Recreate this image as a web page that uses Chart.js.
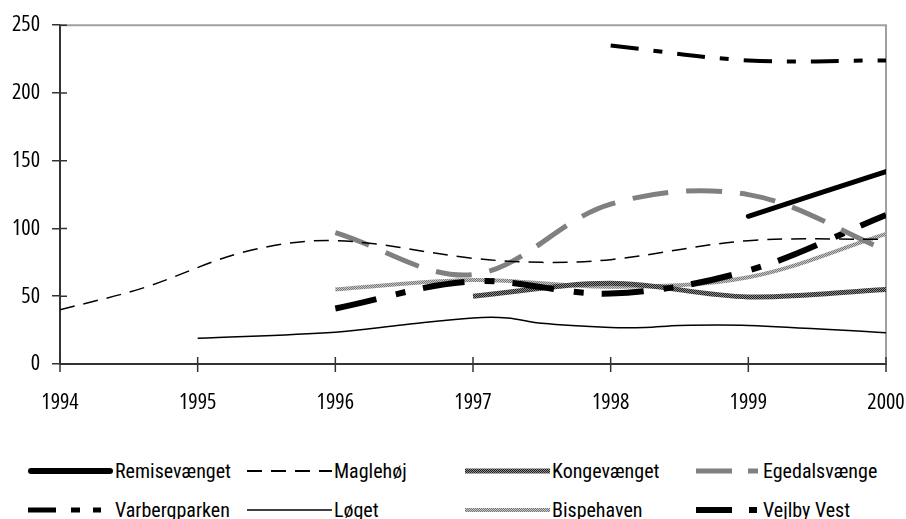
<!DOCTYPE html>
<html>
<head>
<meta charset="utf-8">
<script src="https://cdn.jsdelivr.net/npm/chart.js@4.4.1/dist/chart.umd.min.js"></script>
<style>
  body { margin: 0; background: #fff; }
  #wrap { position: relative; width: 906px; height: 519px; }
  #box { position: absolute; left: 0; top: 0; width: 906px; height: 440px; }
  #legend {
    position: absolute; left: 28px; top: 460px;
    display: grid; grid-template-columns: 219px 218px 211px auto; row-gap: 17px;
    font-family: 'Roboto Condensed', 'Liberation Sans', sans-serif;
    font-size: 20px; color: #000;
  }
  .item { display: flex; align-items: center; height: 22px; white-space: nowrap; }
  .item svg { margin-right: 2px; flex: none; }
</style>
</head>
<body>
<div id="wrap">
  <div id="box"><canvas id="chart"></canvas></div>
  <div id="legend"></div>
</div>
<script>
// values
const remiseYears = [1999, 2000];
const remiseValues = [109, 142];

const magleYears = [1994, 1994.6, 1995.35, 1996, 1997, 1997.5, 1998, 1999, 2000];
const magleValues = [40, 56, 83, 91, 78, 75, 77, 91, 92];

const kongeYears = [1997, 1998, 1999, 2000];
const kongeValues = [50, 59.5, 49.5, 55];

const egedalYears = [1996, 1997, 1998, 1999, 2000];
const egedalValues = [97, 66, 118, 125, 84];

const varbergYears = [1998, 1999, 2000];
const varbergValues = [235, 224, 224];

const logetYears = [1995, 1996, 1996.5, 1997, 1997.25, 1997.5, 1998, 1998.25, 1998.5, 1999, 2000];
const logetValues = [19, 23.5, 29, 34, 34, 30, 27, 27, 28.5, 28.5, 23];

const bispeYears = [1996, 1997, 1998, 1999, 2000];
const bispeValues = [55, 62, 57, 64, 96];

const vejlbyYears = [1996, 1997, 1998, 1999, 2000];
const vejlbyValues = [41, 61, 52, 69, 110];

const yearMin = 1994, yearMax = 2000;
const valueMin = 0, valueMax = 250, valueStep = 50;

// condensed face of Open Sans, close to the narrow axis digits of the original
const TICK_FONT = { family: "'Open Sans', 'Liberation Sans', sans-serif", size: 22, weight: 'condensed' };

function points(xs, ys) {
    return xs.map((x, i) => ({ x: x, y: ys[i] }));
}

// fine checkered fill, like the dithered lines in the original
function dither(dark, light) {
    const c = document.createElement('canvas');
    c.width = 2; c.height = 2;
    const g = c.getContext('2d');
    g.fillStyle = light; g.fillRect(0, 0, 2, 2);
    g.fillStyle = dark; g.fillRect(0, 0, 1, 1); g.fillRect(1, 1, 1, 1);
    return g.createPattern(c, 'repeat');
}

const series = [
    { label: 'Remisevænget', data: points(remiseYears, remiseValues), color: '#000', width: 5, dash: [], cap: 'round', key: 6 },
    { label: 'Maglehøj', data: points(magleYears, magleValues), color: '#000', width: 1.5, dash: [15, 9], key: 2 },
    { label: 'Kongevænget', data: points(kongeYears, kongeValues), tex: ['#222', '#8a8a8a'], width: 5, dash: [], order: 2, key: 5 },
    { label: 'Egedalsvænge', data: points(egedalYears, egedalValues), color: '#808080', width: 5, dash: [36, 18], key: 5, keyDash: [0, 20, 36, 16, 10, 10] },
    { label: 'Varbergparken', data: points(varbergYears, varbergValues), color: '#000', width: 4, dash: [28, 15, 9, 15], key: 5, keyDash: [28, 15, 9, 13, 8, 15] },
    { label: 'Løget', data: points(logetYears, logetValues), color: '#000', width: 1.5, dash: [], key: 1.5 },
    { label: 'Bispehaven', data: points(bispeYears, bispeValues), tex: ['#777', '#c8c8c8'], width: 4, dash: [], order: 2, key: 4 },
    { label: 'Vejlby Vest', data: points(vejlbyYears, vejlbyValues), color: '#000', width: 6, dash: [42, 20, 10, 18], key: 6, keyDash: [0, 20, 36, 17, 8, 10] }
];

const datasets = series.map(s => ({
    label: s.label,
    data: s.data,
    borderColor: s.tex ? dither(s.tex[0], s.tex[1]) : s.color,
    borderWidth: s.width,
    borderDash: s.dash,
    borderCapStyle: s.cap || 'butt',
    pointRadius: 0,
    tension: 0.35,
    fill: false,
    order: s.order || 0
}));

// gray plot frame on top and right, plus crossing tick marks on both axes
const frame = {
    id: 'frame',
    beforeDatasetsDraw(chart) {
        const { ctx, chartArea: a, scales } = chart;
        ctx.save();
        ctx.strokeStyle = '#a0a0a0';
        ctx.lineWidth = 2;
        ctx.beginPath();
        ctx.moveTo(a.left, a.top);
        ctx.lineTo(a.right, a.top);
        ctx.lineTo(a.right, a.bottom);
        ctx.stroke();

        ctx.strokeStyle = '#333';
        ctx.lineWidth = 1.5;
        ctx.beginPath();
        scales.x.ticks.forEach(t => {
            const px = scales.x.getPixelForValue(t.value);
            ctx.moveTo(px, a.bottom - 7);
            ctx.lineTo(px, a.bottom + 8);
        });
        scales.y.ticks.forEach(t => {
            const py = scales.y.getPixelForValue(t.value);
            ctx.moveTo(a.left, py);
            ctx.lineTo(a.left + 7, py);
        });
        ctx.stroke();
        ctx.restore();
    }
};

const chart = new Chart(document.getElementById('chart'), {
    type: 'line',
    data: { datasets: datasets },
    options: {
        responsive: true,
        maintainAspectRatio: false,
        animation: false,
        layout: { padding: { top: 24, right: 20, left: 0, bottom: 0 } },
        plugins: {
            legend: { display: false },
            tooltip: { enabled: false }
        },
        scales: {
            x: {
                type: 'linear',
                min: yearMin,
                max: yearMax,
                afterFit: scale => { scale.height = 76; },
                ticks: {
                    stepSize: 1,
                    padding: 0,
                    color: '#000',
                    font: TICK_FONT,
                    callback: v => String(v)
                },
                // tick marks drawn by the frame plugin, this only spaces the labels
                grid: { drawOnChartArea: false, tickLength: 26, tickColor: 'rgba(0,0,0,0)' },
                border: { color: '#333', width: 2 }
            },
            y: {
                min: valueMin,
                max: valueMax,
                afterFit: scale => { scale.width = 60; },
                ticks: {
                    stepSize: valueStep,
                    padding: 12,
                    color: '#000',
                    font: TICK_FONT
                },
                grid: { drawOnChartArea: false, tickLength: 8, color: '#333', lineWidth: 1.5 },
                border: { color: '#333', width: 2 }
            }
        }
    },
    plugins: [frame]
});

// legend in the original's 4 x 2 grid, swatches follow each dataset's stroke
function buildLegend() {
    const box = document.getElementById('legend');
    series.forEach((s, i) => {
        const w = 85, h = 12;
        let stroke = s.color;
        let defs = '';
        if (s.tex) {
            defs = '<defs><pattern id="tx' + i + '" width="2" height="2" patternUnits="userSpaceOnUse">' +
                '<rect width="2" height="2" fill="' + s.tex[1] + '"/>' +
                '<rect width="1" height="1" fill="' + s.tex[0] + '"/>' +
                '<rect x="1" y="1" width="1" height="1" fill="' + s.tex[0] + '"/></pattern></defs>';
            stroke = 'url(#tx' + i + ')';
        }
        const cap = s.cap || 'butt';
        const x0 = cap === 'round' ? s.key / 2 : 0;
        const dash = s.keyDash || s.dash;
        const svg = '<svg width="' + w + '" height="' + h + '">' + defs +
            '<line x1="' + x0 + '" y1="' + h / 2 + '" x2="' + (w - x0) + '" y2="' + h / 2 + '" stroke="' + stroke +
            '" stroke-width="' + s.key + '" stroke-linecap="' + cap + '"' +
            (dash.length ? ' stroke-dasharray="' + dash.join(',') + '"' : '') + '/></svg>';
        const item = document.createElement('div');
        item.className = 'item';
        item.innerHTML = svg;
        const span = document.createElement('span');
        span.textContent = s.label;
        item.appendChild(span);
        box.appendChild(item);
    });
}
buildLegend();
</script>
</body>
</html>
